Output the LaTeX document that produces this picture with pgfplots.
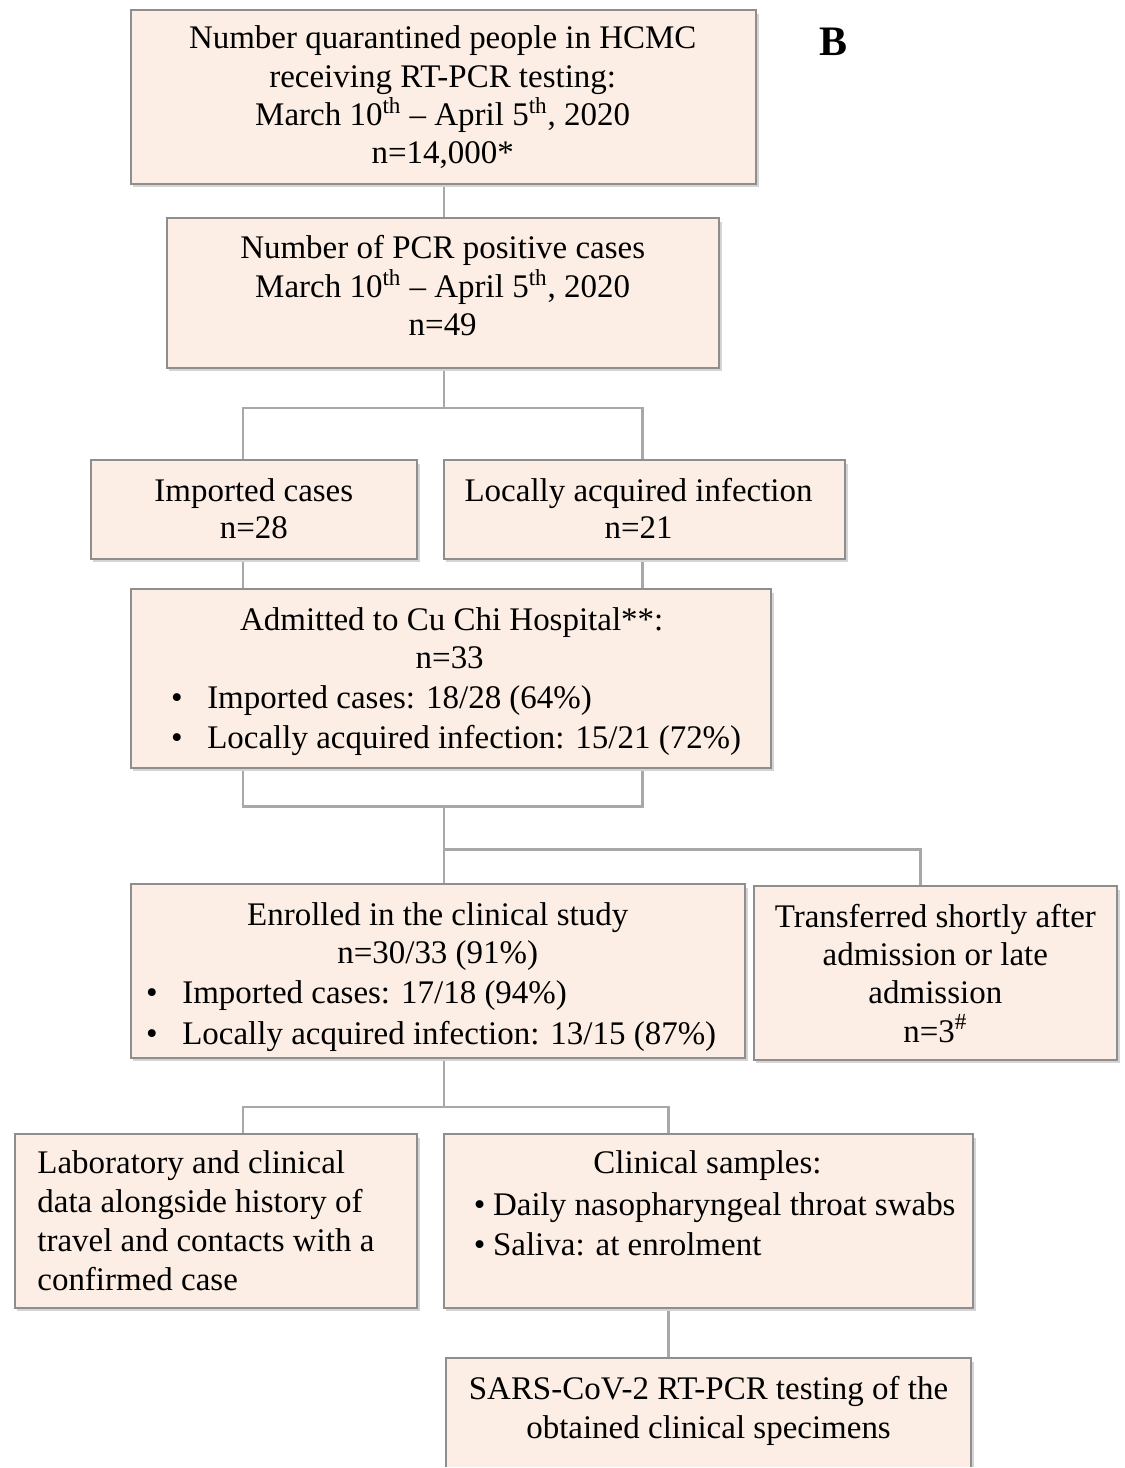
\documentclass[border=0pt]{standalone}
\usepackage{pgfplots}
\pgfplotsset{compat=1.18}
\usepackage{fontspec}
\setmainfont{Liberation Serif}
\definecolor{boxfill}{HTML}{FCEEE4}
\definecolor{boxline}{HTML}{8E8E8E}
\definecolor{conn}{HTML}{A8A8A8}
\definecolor{shadow}{HTML}{D4D4D4}
\tikzset{t/.style={font=\fontsize{16.5}{19}\selectfont,inner sep=0pt,anchor=base},
         tl/.style={font=\fontsize{16.5}{19}\selectfont,inner sep=0pt,anchor=base west}}
\begin{document}
\begin{tikzpicture}
\begin{axis}[width=562.5pt,height=734pt,scale only axis,
  xmin=0,xmax=1125,ymin=0,ymax=1468,y dir=reverse,hide axis,clip=false]
\path (axis cs:0,0) rectangle (axis cs:1125,1468);
% connectors
\addplot[conn,line width=1.2pt,mark=none] coordinates {(444,184)(444,218)};
\addplot[conn,line width=1.2pt,mark=none] coordinates {(444,368)(444,408)};
\addplot[conn,line width=1.2pt,mark=none] coordinates {(243,460)(243,408)(643,408)(643,460)};
\addplot[conn,line width=1.2pt,mark=none] coordinates {(243,559)(243,589)};
\addplot[conn,line width=1.2pt,mark=none] coordinates {(643,559)(643,589)};
\addplot[conn,line width=1.2pt,mark=none] coordinates {(243,769)(243,807)(643,807)(643,769)};
\addplot[conn,line width=1.2pt,mark=none] coordinates {(444,807)(444,885)};
\addplot[conn,line width=1.2pt,mark=none] coordinates {(444,850)(921,850)(921,887)};
\addplot[conn,line width=1.2pt,mark=none] coordinates {(444,1059)(444,1108)};
\addplot[conn,line width=1.2pt,mark=none] coordinates {(243,1135)(243,1108)(669,1108)(669,1135)};
\addplot[conn,line width=1.2pt,mark=none] coordinates {(669,1309)(669,1359)};
% boxes: shadows
\fill[shadow] (axis cs:133,14) rectangle (axis cs:760,187);
\fill[shadow] (axis cs:169,222) rectangle (axis cs:722,371);
\fill[shadow] (axis cs:93,464) rectangle (axis cs:420,562);
\fill[shadow] (axis cs:446,464) rectangle (axis cs:849,562);
\fill[shadow] (axis cs:133,593) rectangle (axis cs:775,772);
\fill[shadow] (axis cs:133,889) rectangle (axis cs:749,1062);
\fill[shadow] (axis cs:757,891) rectangle (axis cs:1121,1064);
\fill[shadow] (axis cs:17,1139) rectangle (axis cs:420,1312);
\fill[shadow] (axis cs:446,1139) rectangle (axis cs:977,1312);
\fill[shadow] (axis cs:448,1363) rectangle (axis cs:975,1468);
% boxes
\filldraw[fill=boxfill,draw=boxline,line width=1pt] (axis cs:131,10) rectangle (axis cs:757,184);
\filldraw[fill=boxfill,draw=boxline,line width=1pt] (axis cs:167,218) rectangle (axis cs:719,368);
\filldraw[fill=boxfill,draw=boxline,line width=1pt] (axis cs:91,460) rectangle (axis cs:417,559);
\filldraw[fill=boxfill,draw=boxline,line width=1pt] (axis cs:444,460) rectangle (axis cs:846,559);
\filldraw[fill=boxfill,draw=boxline,line width=1pt] (axis cs:131,589) rectangle (axis cs:772,769);
\filldraw[fill=boxfill,draw=boxline,line width=1pt] (axis cs:131,885) rectangle (axis cs:746,1059);
\filldraw[fill=boxfill,draw=boxline,line width=1pt] (axis cs:755,887) rectangle (axis cs:1118,1061);
\filldraw[fill=boxfill,draw=boxline,line width=1pt] (axis cs:15,1135) rectangle (axis cs:417,1309);
\filldraw[fill=boxfill,draw=boxline,line width=1pt] (axis cs:444,1135) rectangle (axis cs:974,1309);
\fill[boxfill] (axis cs:446,1359) rectangle (axis cs:972,1468);
\draw[boxline,line width=1pt] (axis cs:446,1468) -- (axis cs:446,1359) -- (axis cs:972,1359) -- (axis cs:972,1468);
% texts
\node[t] at (axis cs:443,49) {Number quarantined people in HCMC};
\node[t] at (axis cs:443,88) {receiving RT-PCR testing:};
\node[t] at (axis cs:443,126) {March 10\textsuperscript{th} -- April 5\textsuperscript{th}, 2020};
\node[t] at (axis cs:443,164) {n=14,000*};
\node[t,font=\fontsize{21}{24}\selectfont\bfseries] at (axis cs:834,56) {B};
\node[t] at (axis cs:443,259) {Number of PCR positive cases};
\node[t] at (axis cs:443,298) {March 10\textsuperscript{th} -- April 5\textsuperscript{th}, 2020};
\node[t] at (axis cs:443,336) {n=49};
\node[t] at (axis cs:254,502) {Imported cases};
\node[t] at (axis cs:254,539) {n=28};
\node[t] at (axis cs:639,502) {Locally acquired infection};
\node[t] at (axis cs:639,539) {n=21};
\node[t] at (axis cs:452,631) {Admitted to Cu Chi Hospital**:};
\node[t] at (axis cs:450,669) {n=33};
\node[t] at (axis cs:177,709) {\textbullet};
\node[tl] at (axis cs:207,709) {Imported cases: 18/28 (64\%)};
\node[t] at (axis cs:177,749) {\textbullet};
\node[tl] at (axis cs:207,749) {Locally acquired infection: 15/21 (72\%)};
\node[t] at (axis cs:438,926) {Enrolled in the clinical study};
\node[t] at (axis cs:438,964) {n=30/33 (91\%)};
\node[t] at (axis cs:152,1004) {\textbullet};
\node[tl] at (axis cs:182,1004) {Imported cases: 17/18 (94\%)};
\node[t] at (axis cs:152,1045) {\textbullet};
\node[tl] at (axis cs:182,1045) {Locally acquired infection: 13/15 (87\%)};
\node[t] at (axis cs:936,928) {Transferred shortly after};
\node[t] at (axis cs:936,966) {admission or late};
\node[t] at (axis cs:936,1004) {admission};
\node[t] at (axis cs:936,1043) {n=3\textsuperscript{\#}};
\node[tl] at (axis cs:37,1174) {Laboratory and clinical};
\node[tl] at (axis cs:37,1213) {data alongside history of};
\node[tl] at (axis cs:37,1252) {travel and contacts with a};
\node[tl] at (axis cs:37,1291) {confirmed case};
\node[t] at (axis cs:708,1174) {Clinical samples:};
\node[t] at (axis cs:480,1216) {\textbullet};
\node[tl] at (axis cs:493,1216) {Daily nasopharyngeal throat swabs};
\node[t] at (axis cs:480,1256) {\textbullet};
\node[tl] at (axis cs:493,1256) {Saliva: at enrolment};
\node[t] at (axis cs:709,1400) {SARS-CoV-2 RT-PCR testing of the};
\node[t] at (axis cs:709,1439) {obtained clinical specimens};
\end{axis}
\end{tikzpicture}
\end{document}
